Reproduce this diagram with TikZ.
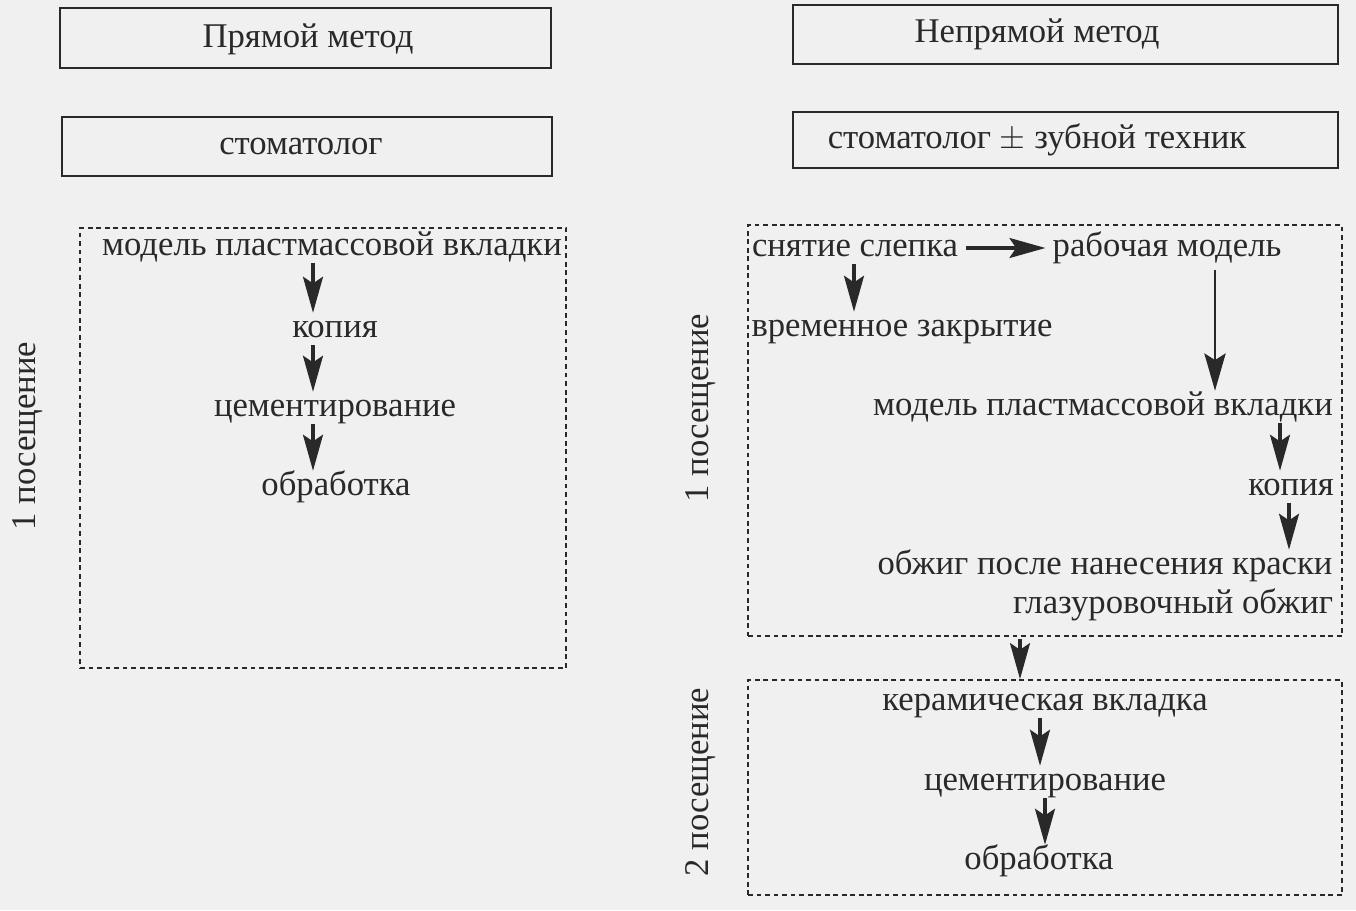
\documentclass[tikz,border=0pt]{standalone}
\usepackage{fontspec}
\setmainfont{Liberation Serif}
\usetikzlibrary{arrows.meta,calc}
\definecolor{ink}{gray}{0.16}
\definecolor{bg}{gray}{0.94}
\begin{document}
\begin{tikzpicture}[x=0.75pt,y=-0.75pt,
  txt/.style={font=\fontsize{26}{31}\selectfont, text=ink, inner sep=0pt, text height=18pt, text depth=6pt},
  solidbox/.style={draw=ink, line width=1.7pt, inner sep=0pt},
  dbox/.style={draw=ink, line width=1.6pt, dash pattern=on 3.6pt off 2.8pt},
  arr/.style={draw=ink, line width=2.3pt, -{Stealth[length=27pt,width=15pt,inset=5pt]}},
  thinarr/.style={draw=ink, line width=1.4pt, -{Stealth[length=28pt,width=16pt,inset=5pt]}},
  vis/.style={txt, rotate=90}
  ]
\fill[bg] (0,0) rectangle (1356,910);
\useasboundingbox (0,0) rectangle (1356,910);

% header boxes
\node[solidbox, minimum width=368pt, minimum height=45pt] (pm) at (305.5,38) {};
\node[txt] (pmt) at (308,39) {Прямой метод};
\node[solidbox, minimum width=409pt, minimum height=44pt] (npm) at (1065.5,34.5) {};
\node[txt] (npmt) at (1037,34) {Непрямой метод};
\node[solidbox, minimum width=367.5pt, minimum height=44pt] (st1) at (307,146.5) {};
\node[txt] (st1t) at (301,146) {стоматолог};
\node[solidbox, minimum width=409pt, minimum height=42pt] (st2) at (1065.5,140) {};
\node[txt] (st2t) at (1037,140) {стоматолог $\pm$ зубной техник};

% dashed frames
\node[dbox, minimum width=364.5pt, minimum height=330pt] (L) at (323,448) {};
\node[dbox, minimum width=445.5pt, minimum height=308pt] (R1) at (1045,430.5) {};
\node[dbox, minimum width=445.5pt, minimum height=161pt] (R2) at (1045,787.5) {};

% visit labels
\node[vis] (v1) at (28,436) {1 посещение};
\node[vis] (v2) at (700,408) {1 посещение};
\node[vis] (v3) at (700,782) {2 посещение};

% direct method
\node[txt] (lm) at (332,247) {модель пластмассовой вкладки};
\node[txt] (lk) at (335,329) {копия};
\node[txt] (lc) at (335,408) {цементирование};
\node[txt] (lo) at (336,487) {обработка};
\path (lm.south) ++(-19,0) coordinate (a1);
\path (lk.south) ++(-22,0) coordinate (a2);
\path (lc.south) ++(-22,0) coordinate (a3);
\draw[arr] (a1) -- (a1 |- lk.north);
\draw[arr] (a2) -- (a2 |- lc.north);
\draw[arr] (a3) -- (a3 |- lo.north);

% indirect method
\node[txt] (sn) at (855,248) {снятие слепка};
\node[txt] (rm) at (1167,248) {рабочая модель};
\node[txt] (vz) at (902,328) {временное закрытие};
\node[txt] (rmp) at (1103,407) {модель пластмассовой вкладки};
\node[txt] (rk) at (1291,487) {копия};
\node[txt] (ob) at (1105,566) {обжиг после нанесения краски};
\node[txt] (gl) at (1173,605) {глазуровочный обжиг};
\node[txt] (kv) at (1045,702) {керамическая вкладка};
\node[txt] (rc) at (1045,782) {цементирование};
\node[txt] (ro) at (1039,861) {обработка};

\path (sn.east) ++(8,0) coordinate (h1);
\path (rm.west) ++(-7,0) coordinate (h2);
\draw[arr] (h1) -- (h2);
\path (sn.south) ++(-1,0) coordinate (b1);
\draw[arr] (b1) -- (b1 |- vz.north);
\path (rm.south) ++(48,6) coordinate (b2);
\draw[thinarr] (b2) -- (b2 |- rmp.north);
\path (rmp.south) ++(177,0) coordinate (b3);
\draw[arr] (b3) -- (b3 |- rk.north);
\path (rk.south) ++(-2,0) coordinate (b4);
\draw[arr] (b4) -- (b4 |- ob.north);
\path (R1.south) ++(-25,2) coordinate (b5);
\draw[arr] (b5) -- (b5 |- R2.north);
\path (kv.south) ++(-5,0) coordinate (b6);
\draw[arr] (b6) -- (b6 |- rc.north);
\path (rc.south) ++(0,0) coordinate (b7);
\draw[arr] (b7) -- (b7 |- ro.north);
\end{tikzpicture}
\end{document}
